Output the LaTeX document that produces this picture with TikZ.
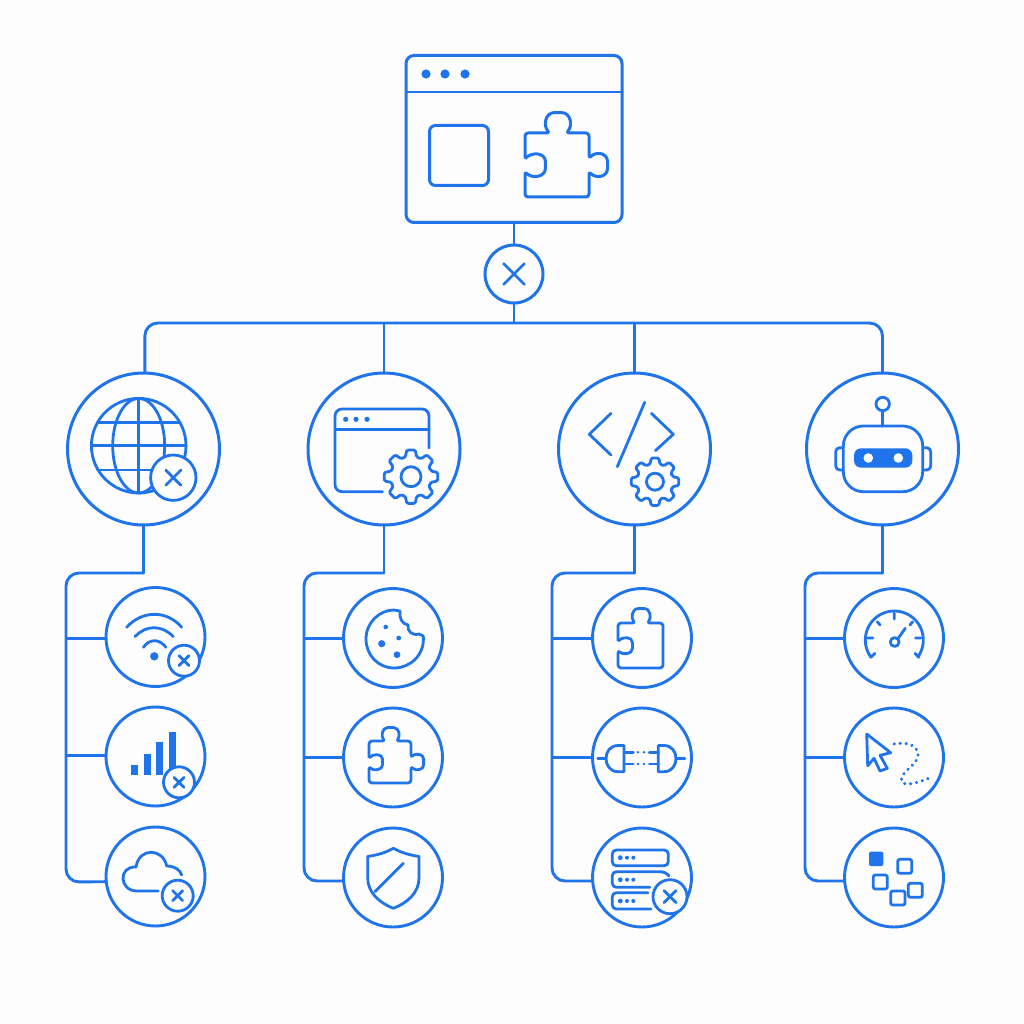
\documentclass[tikz,border=0pt]{standalone}
\definecolor{ink}{HTML}{1F74EC}
\definecolor{bg}{HTML}{FDFDFE}
\tikzset{
  x=1pt,y=-1pt,
  conn/.style={draw=ink,line width=2.9pt,rounded corners=13pt},
  bigdisc/.style={circle,draw=ink,line width=3pt,minimum size=152pt,inner sep=0pt,outer sep=0pt,fill=bg},
  leafdisc/.style={circle,draw=ink,line width=2.9pt,minimum size=99pt,inner sep=0pt,outer sep=0pt,fill=bg},
  icon/.style={draw=ink,line width=2.8pt,line cap=round,line join=round},
}
\newcommand{\badgeicon}[4]{% x y radius half-cross
  \begin{scope}[shift={(#1,#2)}]
    \draw[icon,fill=bg] (0,0) circle[radius=#3pt];
    \draw[icon] (-#4,-#4) -- (#4,#4) (-#4,#4) -- (#4,-#4);
  \end{scope}}
\newcommand{\gearicon}[4]{% x y outer ring
  \begin{scope}[shift={(#1,#2)}]
    \pgfmathsetmacro{\rroot}{0.76*#3}
    \draw[icon,fill=bg,rounded corners=1.3pt] (-16:\rroot)
      \foreach \a in {0,45,...,315} {-- ({\a-16}:\rroot) -- ({\a-9}:#3) -- ({\a+9}:#3) -- ({\a+16}:\rroot)} -- cycle;
    \draw[icon] (0,0) circle[radius=#4pt];
  \end{scope}}
\newcommand{\puzzlepiece}[5]{% x y half-size width right-edge
  \begin{scope}[shift={(#1,#2)},x=#3pt,y=-#3pt]
    \draw[draw=ink,line width=#4pt,line join=round,rounded corners=3pt]
      (-1,-.2) -- (-1,-1) -- (-.22,-1)
      .. controls (-.42,-1.2) and (-.4,-1.64) .. (0.03,-1.64)
      .. controls (.46,-1.64) and (.48,-1.2) .. (.28,-1)
      -- (1,-1) -- (1,-.2) #5 -- (1,1) -- (-1,1) -- (-1,.2)
      .. controls (-.8,.42) and (-.36,.4) .. (-.36,0)
      .. controls (-.36,-.4) and (-.8,-.42) .. (-1,-.2);
  \end{scope}}
\begin{document}
\begin{tikzpicture}
\useasboundingbox (0,0) rectangle (1024,1024);
\fill[bg] (0,0) rectangle (1024,1024);

% ---------- top window ----------
\node[draw=ink,line width=3pt,rounded corners=8pt,minimum width=216pt,minimum height=167pt,inner sep=0pt,outer sep=0pt] (win) at (514,139) {};
\node[circle,draw=ink,line width=3pt,minimum size=58pt,inner sep=0pt,outer sep=0pt] (hub) at (514,274) {};
\coordinate (busmid) at (514,323);
\coordinate (winL) at (406,92);
\coordinate (winR) at (622,92);
\draw[icon] (winL) -- (winR);
\foreach \x in {426,445,465} \fill[ink] (\x,74) circle[radius=4.6pt];
\draw[icon,line width=3pt,rounded corners=6pt] (429.5,125.5) rectangle (488.5,185.5);
\puzzlepiece{557}{165}{32}{3}{.. controls (1.2,-.42) and (1.58,-.4) .. (1.58,0) .. controls (1.58,.4) and (1.2,.42) .. (1,.2)}
\draw[icon] (503.5,263.5) -- (524.5,284.5) (503.5,284.5) -- (524.5,263.5);

% ---------- main circles ----------
\node[bigdisc] (bA) at (143.5,449) {};
\node[bigdisc] (bB) at (384,449) {};
\node[bigdisc] (bC) at (634.5,449) {};
\node[bigdisc] (bD) at (882.5,449) {};

% ---------- leaf circles ----------
\node[leafdisc] (a1) at (155.5,637) {};
\node[leafdisc] (a2) at (155.5,756.5) {};
\node[leafdisc] (a3) at (155.5,876.5) {};
\node[leafdisc] (b1) at (393,638) {};
\node[leafdisc] (b2) at (393,757.5) {};
\node[leafdisc] (b3) at (393,877.5) {};
\node[leafdisc] (c1) at (642,638) {};
\node[leafdisc] (c2) at (642,757.5) {};
\node[leafdisc] (c3) at (642,877.5) {};
\node[leafdisc] (d1) at (894,638) {};
\node[leafdisc] (d2) at (894,757.5) {};
\node[leafdisc] (d3) at (894,877.5) {};

% ---------- connectors ----------
\draw[conn] (win.south) -- (hub.north);
\draw[conn] (hub.south) -- (busmid);
\coordinate (busy) at (0,323);
\draw[conn] (bA.89) |- (busy -| bB.north) -- (busy -| bC.north) -| (bD.north);
\draw[conn] (bB.north) -- (busy -| bB.north);
\draw[conn] (bC.north) -- (busy -| bC.north);

\coordinate (trA) at (66,573);
\coordinate (trB) at (304,573);
\coordinate (trC) at (552,573);
\coordinate (trD) at (805,573);
\coordinate (botA) at (66,882);
\coordinate (botB) at (304,881);
\coordinate (botC) at (552,881);
\coordinate (botD) at (805,881);
\draw[conn,line cap=round] (bA.south) -- (bA.south |- trA);
\draw[conn,line cap=round] (bB.south) -- (bB.south |- trB);
\draw[conn,line cap=round] (bC.south) -- (bC.south |- trC);
\draw[conn,line cap=round] (bD.south) -- (bD.south |- trD);
\draw[conn,line cap=round] (bA.south |- trA) -- (trA) -- (botA) -- (a3.186);
\draw[conn,line cap=round] (bB.south |- trB) -- (trB) -- (botB) -- (b3.184);
\draw[conn,line cap=round] (bC.south |- trC) -- (trC) -- (botC) -- (c3.184);
\draw[conn,line cap=round] (bD.south |- trD) -- (trD) -- (botD) -- (d3.184);
\draw[conn] (a1.182 -| trA) -- (a1.182);
\draw[conn] (a2.179 -| trA) -- (a2.179);
\draw[conn] (b1.181 -| trB) -- (b1.181);
\draw[conn] (b2.180 -| trB) -- (b2.180);
\draw[conn] (c1.181 -| trC) -- (c1.181);
\draw[conn] (c2.180 -| trC) -- (c2.180);
\draw[conn] (d1.181 -| trD) -- (d1.181);
\draw[conn] (d2.180 -| trD) -- (d2.180);

% ---------- globe ----------
\draw[icon] (138.7,445.7) circle[radius=47.3pt];
\draw[icon] (138.7,445.7) ellipse[x radius=26pt,y radius=47.3pt];
\draw[icon] (138.7,398.4) -- (138.7,493);
\draw[icon] (97.5,422.3) -- (179.9,422.3) (91.4,445.7) -- (186,445.7) (97.5,470) -- (179.9,470);
\badgeicon{173.3}{477.7}{22.7}{7.5}

% ---------- window with gear ----------
\draw[icon,rounded corners=7pt] (429,448) -- (429,409) -- (335,409) -- (335,491.7) -- (382.5,491.7);
\draw[icon] (335,429.3) -- (429,429.3);
\foreach \x in {345.7,356,367} \fill[ink] (\x,419.3) circle[radius=2.6pt];
\gearicon{411}{476.7}{27}{10}

% ---------- code ----------
\draw[icon] (611,413.3) -- (589.3,434.3) -- (611,455);
\draw[icon] (644.7,402.3) -- (617.3,466.7);
\draw[icon] (651.3,413.3) -- (673.3,434.3) -- (655.3,450.7);
\gearicon{655}{481.7}{24}{8.5}

% ---------- robot ----------
\draw[icon,rounded corners=4pt] (843.3,447.7) -- (835.7,447.7) -- (835.7,470) -- (843.3,470);
\draw[icon,rounded corners=4pt] (922.7,447.7) -- (930.7,447.7) -- (930.7,470) -- (922.7,470);
\draw[icon,rounded corners=20pt] (843.3,426) rectangle (922.7,491.7);
\draw[icon] (882.7,410.7) -- (882.7,426);
\draw[icon] (882.7,404) circle[radius=6.7pt];
\fill[ink,rounded corners=7pt] (854,448.3) rectangle (912.3,467.7);
\fill[bg] (868.3,458) circle[radius=4.8pt] (898.3,458) circle[radius=4.8pt];

% ---------- wifi ----------
\draw[icon] (126.7,627.3) .. controls (142,610) and (167,610) .. (181.7,627.3);
\draw[icon] (135,636.7) .. controls (146,624.7) and (162,624.7) .. (173.3,636.7);
\draw[icon] (143.3,647.3) .. controls (150,638.5) and (159,638.5) .. (166,647.3);
\fill[ink] (154.3,656.3) circle[radius=4.2pt];
\badgeicon{184}{660.7}{15.5}{5}

% ---------- signal ----------
\fill[ink] (131,765) rectangle (138.3,775);
\fill[ink] (144,754) rectangle (151,775);
\fill[ink] (156.3,742.3) rectangle (163.3,775);
\fill[ink] (169,731.7) rectangle (176,775);
\badgeicon{179}{782.3}{15.5}{5}

% ---------- cloud ----------
\draw[icon] (158.3,891) -- (137,891) .. controls (119,891) and (118,866) .. (136,867)
  .. controls (139,847) and (163,848) .. (166.7,866) .. controls (175,866) and (180,870) .. (181.7,875);
\badgeicon{177.7}{895.7}{15.5}{5}

% ---------- cookie ----------
\draw[icon] (423.3,636) .. controls (425,655) and (410,668) .. (394.3,668)
  .. controls (378,668) and (366,655) .. (366,639)
  .. controls (366,622) and (380,610) .. (394,610) -- (400,611)
  .. controls (399,618) and (402,624) .. (408,625)
  .. controls (407,631) and (412,636) .. (419,634) -- (423.3,636);
\fill[ink] (385.7,627) circle[radius=2.3pt] (398.7,638) circle[radius=2.4pt]
  (381.7,643.7) circle[radius=3.6pt] (397,654.7) circle[radius=3.4pt];

% ---------- puzzles ----------
\puzzlepiece{390}{762}{21}{2.8}{.. controls (1.2,-.42) and (1.6,-.4) .. (1.6,0) .. controls (1.6,.4) and (1.2,.42) .. (1,.2)}
\puzzlepiece{640.5}{645.5}{22.5}{2.8}{-- (1,.2)}

% ---------- shield ----------
\draw[icon] (393.3,848.3) .. controls (385,853) and (377,855) .. (367.7,856.5) -- (367.7,878)
  .. controls (367.7,893) and (380,903) .. (393.3,908.3)
  .. controls (407,903) and (419,893) .. (419,878) -- (419,856.5)
  .. controls (410,855) and (402,853) .. (393.3,848.3) -- cycle;
\draw[icon] (403.3,863.3) -- (375,891.7);

% ---------- plugs ----------
\draw[icon] (597.7,758.3) -- (606,758.3);
\draw[icon] (624,745.5) -- (624,771.7) -- (618,771.7) .. controls (610,771.7) and (606,765) .. (606,758.5)
  .. controls (606,752) and (610,745.5) .. (618,745.5) -- cycle;
\draw[icon] (624,752.3) -- (633.3,752.3) (624,764) -- (633.3,764);
\draw[icon] (685,758.3) -- (676,758.3);
\draw[icon] (658.3,745.5) -- (658.3,771.7) -- (664,771.7) .. controls (672,771.7) and (676,765) .. (676,758.5)
  .. controls (676,752) and (672,745.5) .. (664,745.5) -- cycle;
\draw[icon] (658.3,752.3) -- (649.3,752.3) (658.3,764) -- (649.3,764);
\fill[ink] (638,752.3) circle[radius=1.4pt] (644,752.3) circle[radius=1.4pt]
  (638,764) circle[radius=1.4pt] (644,764) circle[radius=1.4pt];

% ---------- server ----------
\draw[icon,rounded corners=4pt] (612.3,850) rectangle (668.3,865.7);
\draw[icon,rounded corners=4pt] (650,887.3) -- (612.3,887.3) -- (612.3,871.7) -- (665,871.7) -- (669,876);
\draw[icon,rounded corners=4pt] (651,909) -- (612.3,909) -- (612.3,892.7) -- (648,892.7);
\foreach \y in {857.7,879.7,901} \fill[ink] (620.3,\y) circle[radius=2.4pt] (627,\y) circle[radius=2pt] (633.3,\y) circle[radius=2pt];
\badgeicon{670}{896.7}{17}{6}

% ---------- gauge ----------
\begin{scope}[shift={(894.3,640)}]
  \draw[icon] (144:29) \foreach \a in {150,156,...,396} {-- (\a:29)};
\end{scope}
\draw[icon] (867.7,638) -- (873,638) (894.3,613) -- (894.3,619) (915.5,638) -- (921,638)
  (877.3,621.7) -- (880,625) (910,625) -- (912.7,621.7)
  (870.7,657.3) -- (875,653.3) (919,657.3) -- (915,653.3);
\draw[icon] (894.7,642) circle[radius=4.4pt];
\draw[icon] (898,638.5) -- (905.3,628.3);

% ---------- cursor ----------
\draw[icon] (866.7,734) -- (890.7,752.7) -- (880,755.3) -- (887.3,768.3) -- (880,771) -- (874,758.3) -- (867.7,765.7) -- cycle;
\draw[draw=ink,line width=3pt,line cap=round,dash pattern=on 0.5pt off 5.5pt]
  (894,744) .. controls (905,742) and (918,744) .. (918,755)
  .. controls (918,765) and (900,772) .. (901.5,780)
  .. controls (902,787) and (915,784) .. (932,777);

% ---------- squares ----------
\fill[ink,rounded corners=2pt] (869,851.7) rectangle (883.3,866);
\draw[icon,rounded corners=2pt] (897.7,859.3) rectangle (911.7,873.3);
\draw[icon,rounded corners=2pt] (873.3,875) rectangle (887.3,889);
\draw[icon,rounded corners=2pt] (908.3,883.3) rectangle (922.3,897.3);
\draw[icon,rounded corners=2pt] (890.7,891) rectangle (905,905);
\end{tikzpicture}
\end{document}
